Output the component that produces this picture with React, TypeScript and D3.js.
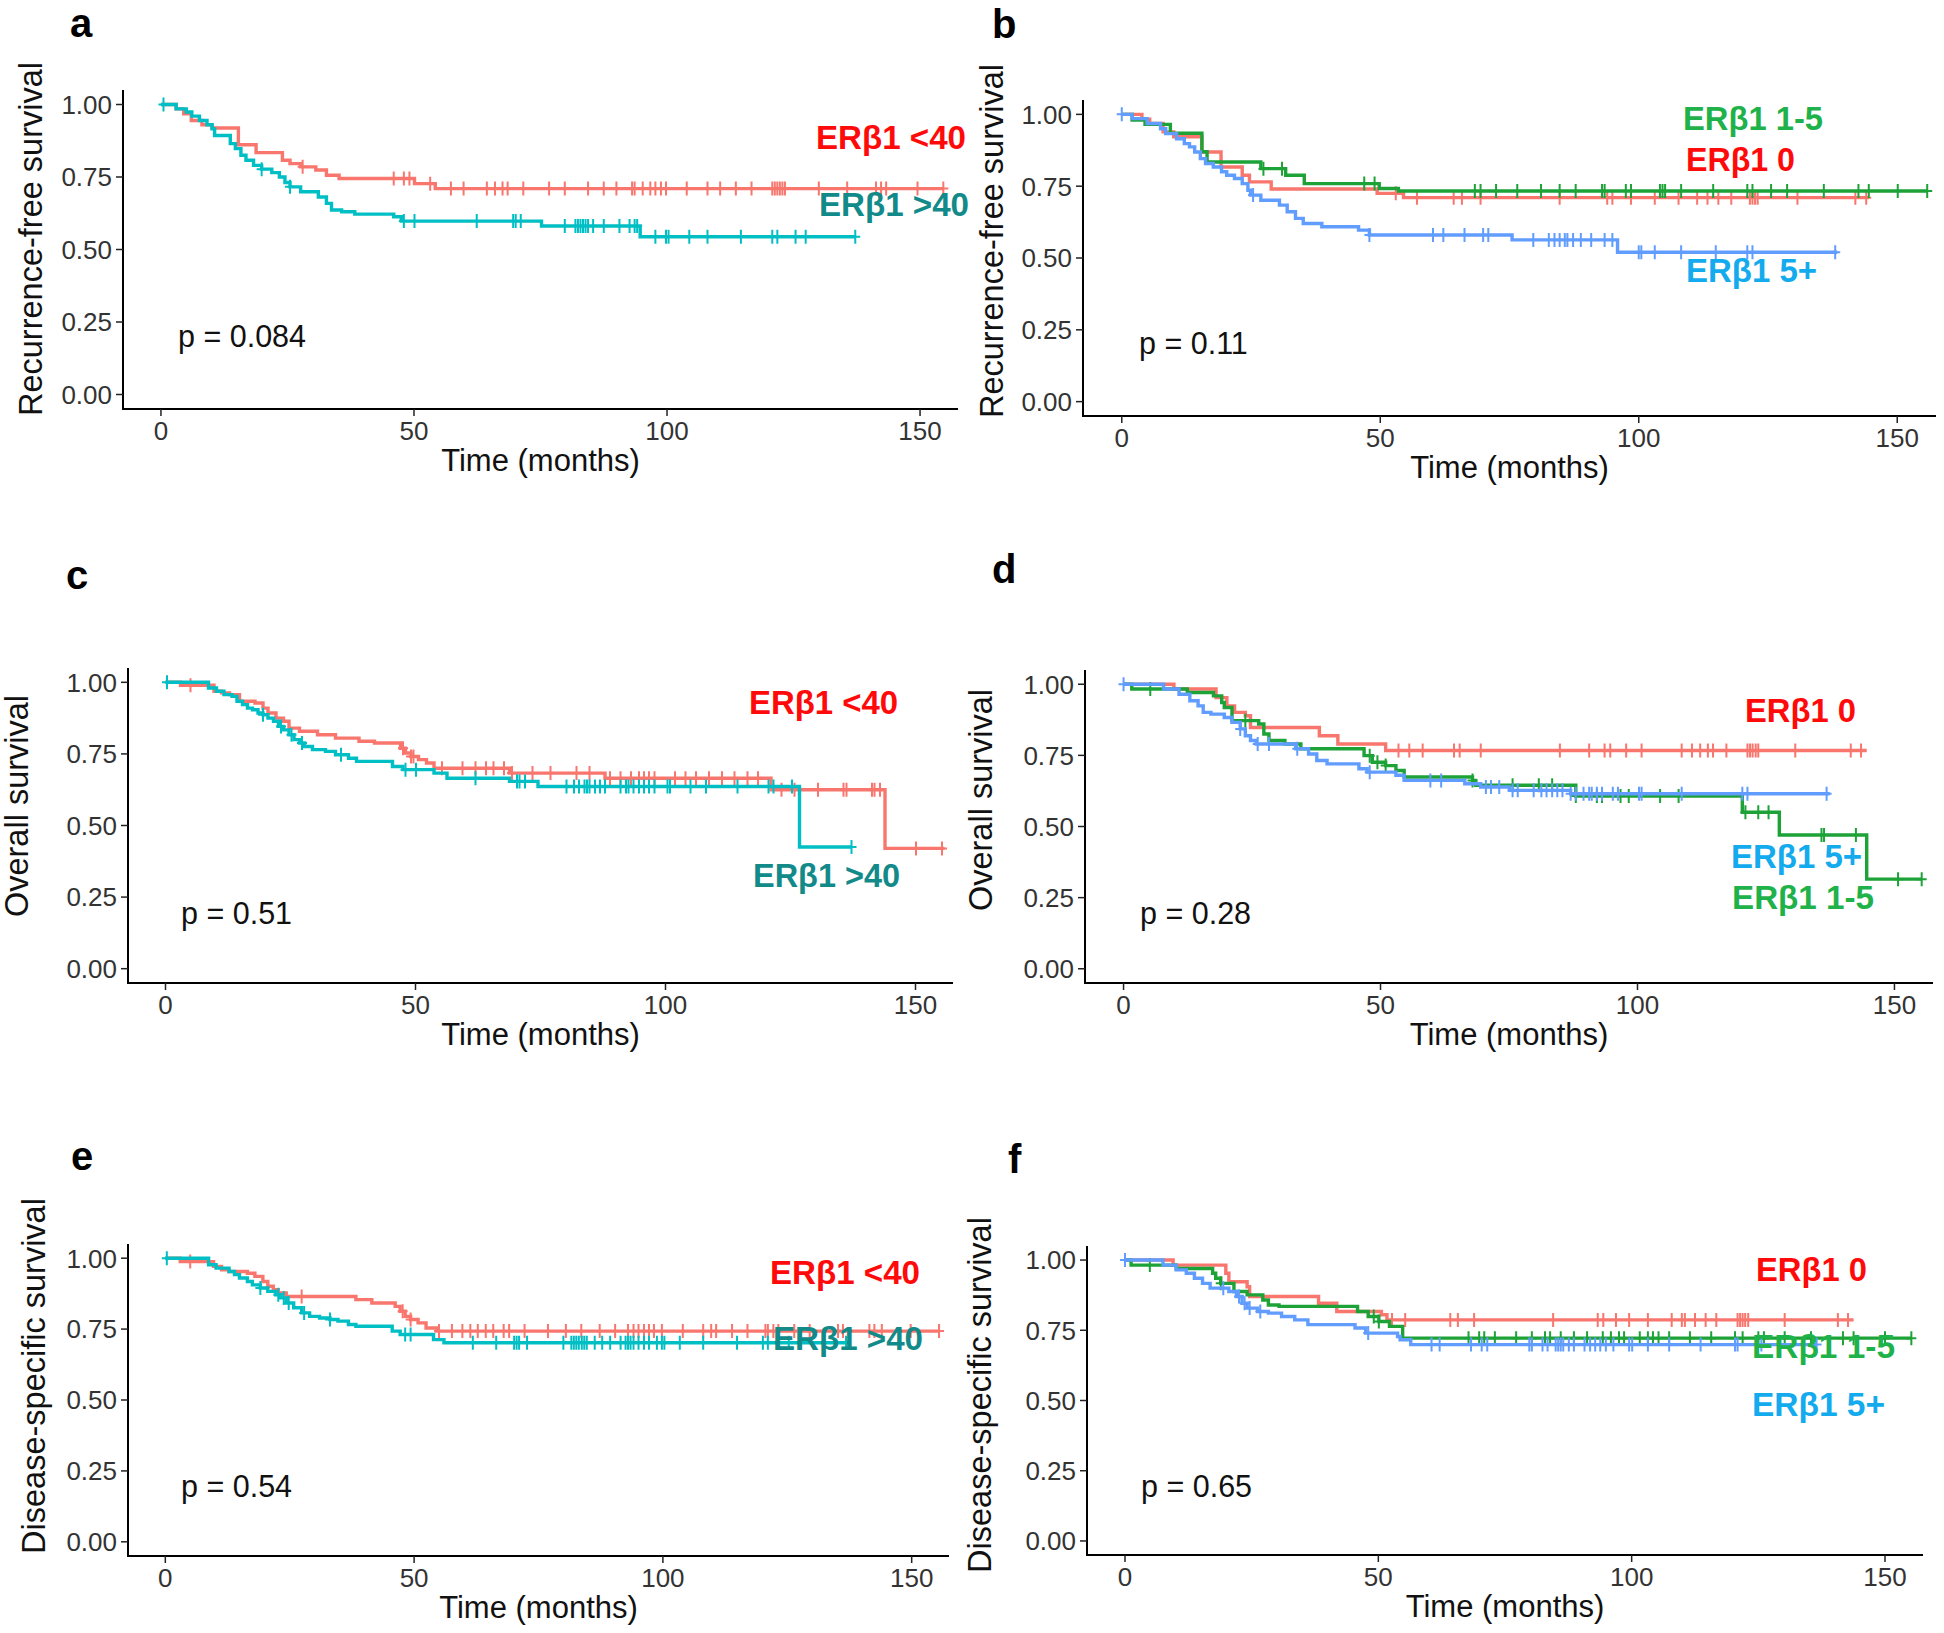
import React from 'react';
import * as d3 from 'd3';

// ---------------- data ----------------
const xTicks = [0, 50, 100, 150];
const yTicks = [0, 0.25, 0.5, 0.75, 1];
const yTickLabels = ['0.00', '0.25', '0.50', '0.75', '1.00'];
const xTitle = 'Time (months)';

// panel a : Recurrence-free survival, ERβ1 <40 vs >40
const aLowT = [0, 3, 4.5, 6, 8.1, 10.1, 15.3, 18.8, 24.0, 25.5, 27.6, 30.6, 32.7, 35.2, 50.1, 54.2];
const aLowS = [1, 0.985, 0.968, 0.945, 0.93, 0.919, 0.861, 0.834, 0.808, 0.796, 0.785, 0.774, 0.756, 0.745, 0.727, 0.71];
const aLowEnd = 154.6;
const aLowCens = [28, 46.0, 48.0, 49.1, 53.2, 57.3, 59.8, 64.4, 66.0, 67.5, 68.5, 71.6, 76.7, 79.8, 84.4, 87.5, 90.0, 93.1, 93.6, 95.2, 96.7, 97.7, 98.8, 99.8, 103.9, 108.0, 110.5, 113.6, 116.7, 120.8, 121.3, 121.8, 122.3, 122.8, 123.3, 130.0, 135.6, 141.3, 142.3, 143.3, 149.5, 154.6];
const aHighT = [0, 3, 5.0, 6.1, 7.6, 9.1, 10.1, 10.6, 13.7, 14.7, 15.8, 16.8, 18.3, 19.9, 21.9, 23.4, 24.5, 25.5, 27.6, 31.1, 32.7, 33.7, 35.7, 38.3, 46.0, 47.5, 75.2, 94.7];
const aHighS = [1, 0.985, 0.974, 0.96, 0.945, 0.93, 0.916, 0.893, 0.865, 0.848, 0.825, 0.808, 0.79, 0.777, 0.765, 0.75, 0.731, 0.716, 0.699, 0.681, 0.659, 0.636, 0.63, 0.622, 0.613, 0.598, 0.581, 0.544];
const aHighEnd = 137.2;
const aHighCens = [0.5, 19.9, 25.5, 48.0, 50.1, 62.4, 69.6, 70.1, 71.1, 79.8, 81.9, 82.4, 82.9, 83.4, 83.9, 84.4, 85.4, 87.5, 90.6, 92.6, 93.6, 94.1, 97.7, 99.8, 100.3, 104.4, 108.0, 114.6, 120.8, 121.8, 125.4, 127.4, 137.2];

// panel b : Recurrence-free survival, ERβ1 0 / 1-5 / 5+
const bZeroT = [0, 3.9, 5.4, 8.0, 10.05, 15.5, 19.2, 23.3, 24.7, 28.9, 49.4, 54.5];
const bZeroS = [1, 0.983, 0.968, 0.939, 0.922, 0.869, 0.817, 0.788, 0.765, 0.74, 0.725, 0.71];
const bZeroEnd = 144.5;
const bZeroCens = [53.0, 57.1, 64.2, 65.8, 69.4, 84.7, 93.9, 94.9, 98.5, 103.1, 107.7, 111.3, 113.3, 115.4, 117.9, 121.5, 122.0, 122.5, 123.0, 130.7, 141.9, 144.0];
const bMidT = [0, 2, 4.5, 9.4, 15.5, 16.5, 26.9, 31.7, 35.3, 49.8, 53.5];
const bMidS = [1, 0.98, 0.965, 0.934, 0.87, 0.834, 0.811, 0.788, 0.759, 0.742, 0.733];
const bMidEnd = 155.8;
const bMidCens = [27.4, 31.0, 46.9, 48.9, 68.3, 69.4, 72.4, 76.5, 81.1, 84.7, 87.8, 92.9, 93.4, 97.5, 98.5, 104.1, 104.6, 105.1, 108.2, 114.4, 121.0, 122.0, 125.6, 128.7, 135.8, 142.5, 144.5, 150.1, 155.8];
const bHighT = [0, 2, 4.9, 7.5, 8.5, 10.6, 12.1, 13.1, 14.1, 15.2, 16.2, 17.7, 19.3, 20.3, 21.8, 23.3, 24.4, 24.9, 26.9, 30.5, 32.0, 33.6, 35.1, 38.7, 45.8, 47.9, 75.5, 95.9];
const bHighS = [1, 0.985, 0.968, 0.95, 0.933, 0.915, 0.898, 0.887, 0.869, 0.846, 0.829, 0.817, 0.8, 0.788, 0.777, 0.759, 0.736, 0.719, 0.701, 0.684, 0.661, 0.638, 0.62, 0.609, 0.597, 0.58, 0.563, 0.52];
const bHighEnd = 138.4;
const bHighCens = [0, 25.4, 47.9, 60.2, 62.2, 66.3, 69.9, 70.9, 79.6, 82.6, 83.7, 84.7, 85.7, 86.2, 87.3, 88.8, 90.8, 93.4, 94.9, 100.0, 100.5, 103.1, 108.2, 114.9, 121.0, 122.0, 138.0];

// panel c : Overall survival, ERβ1 <40 vs >40
const cLowT = [0, 3, 9.7, 11.2, 12.8, 14.8, 17.9, 19.5, 20.5, 22.1, 23.6, 24.7, 26.8, 30.4, 34.0, 38.7, 41.8, 47.0, 48.0, 49.1, 50.6, 52.2, 53.7, 68.8, 87.9, 121.1, 143.9];
const cLowS = [1, 0.99, 0.969, 0.963, 0.957, 0.934, 0.928, 0.91, 0.893, 0.875, 0.864, 0.84, 0.829, 0.817, 0.805, 0.794, 0.788, 0.77, 0.753, 0.741, 0.73, 0.718, 0.70, 0.683, 0.665, 0.625, 0.42];
const cLowEnd = 155.8;
const cLowCens = [5.0, 47.5, 49.1, 49.6, 55.3, 59.4, 62.0, 64.1, 65.6, 67.7, 69.3, 73.4, 77.0, 82.2, 84.8, 88.9, 91.0, 93.1, 94.7, 95.7, 96.7, 97.8, 101.9, 104.0, 106.1, 108.7, 111.3, 113.8, 116.4, 118.5, 123.2, 125.8, 130.5, 135.6, 136.2, 141.3, 141.8, 142.9, 150.1, 155.3];
const cHighT = [0, 8.6, 10.2, 11.7, 13.3, 14.3, 15.4, 16.4, 17.4, 18.5, 19.5, 20.5, 21.6, 22.6, 23.6, 24.7, 25.7, 26.8, 27.8, 29.4, 32.0, 34.0, 36.6, 38.2, 45.4, 47.5, 53.7, 56.3, 68.8, 74.5, 126.8];
const cHighS = [1, 0.98, 0.969, 0.957, 0.951, 0.934, 0.922, 0.91, 0.904, 0.893, 0.887, 0.875, 0.864, 0.846, 0.834, 0.817, 0.80, 0.788, 0.776, 0.765, 0.759, 0.747, 0.735, 0.724, 0.706, 0.695, 0.683, 0.665, 0.654, 0.636, 0.425];
const cHighEnd = 137.2;
const cHighCens = [0.3, 19.5, 23.1, 25.2, 27.3, 35.1, 48.0, 50.1, 62.0, 70.3, 70.8, 71.9, 80.2, 81.7, 82.7, 83.8, 84.3, 84.8, 85.9, 86.9, 87.9, 91.0, 92.1, 92.6, 93.6, 94.7, 95.7, 96.7, 97.8, 100.4, 100.9, 105.0, 108.1, 114.4, 120.6, 121.6, 125.3, 137.2];

// panel d : Overall survival, ERβ1 0 / 1-5 / 5+
const dZeroT = [0, 9.8, 18.0, 20.1, 21.6, 23.7, 24.7, 38.1, 41.7, 51.0];
const dZeroS = [1, 0.983, 0.953, 0.924, 0.901, 0.889, 0.848, 0.819, 0.79, 0.767];
const dZeroEnd = 144.6;
const dZeroCens = [53.5, 55.6, 58.2, 64.3, 65.4, 69.5, 84.9, 90.6, 93.6, 94.7, 97.8, 100.8, 108.6, 110.6, 112.2, 113.7, 114.7, 117.3, 121.4, 121.9, 122.4, 123.0, 123.5, 130.7, 141.5, 143.5];
const dMidT = [0, 1.6, 12.4, 17.5, 19.1, 19.6, 21.1, 26.3, 27.3, 28.3, 31.4, 34.5, 46.8, 48.4, 51.0, 53.0, 54.6, 67.9, 68.5, 88.0, 120.4, 127.6, 144.6];
const dMidS = [1, 0.983, 0.971, 0.959, 0.936, 0.918, 0.872, 0.86, 0.825, 0.802, 0.79, 0.773, 0.749, 0.726, 0.714, 0.697, 0.674, 0.662, 0.645, 0.607, 0.55, 0.47, 0.315];
const dMidEnd = 155.3;
const dMidCens = [5.2, 23.7, 47.9, 49.4, 51.0, 67.9, 75.7, 80.8, 83.4, 88.0, 92.1, 93.1, 96.7, 98.3, 104.4, 108.0, 121.0, 123.5, 125.5, 135.8, 136.3, 142.5, 150.7, 155.3];
const dHighT = [0, 7.8, 10.8, 12.9, 14.5, 15.5, 17.0, 19.6, 21.1, 22.7, 23.7, 24.7, 25.8, 33.5, 36.0, 37.6, 39.6, 45.8, 47.4, 53.0, 54.6, 66.4, 69.5, 75.1, 87.0];
const dHighS = [1, 0.983, 0.965, 0.942, 0.924, 0.901, 0.895, 0.883, 0.866, 0.843, 0.819, 0.802, 0.79, 0.773, 0.755, 0.732, 0.72, 0.703, 0.691, 0.68, 0.662, 0.65, 0.639, 0.627, 0.615];
const dHighEnd = 137.4;
const dHighCens = [0, 22.7, 26.1, 28.3, 33.8, 47.9, 59.7, 61.8, 70.5, 71.5, 73.1, 75.7, 76.7, 79.8, 81.3, 82.3, 83.4, 84.4, 85.4, 87.0, 88.0, 89.5, 90.6, 91.1, 92.1, 93.1, 95.2, 96.2, 100.3, 100.8, 108.6, 120.4, 121.4, 136.8];

// panel e : Disease-specific survival, ERβ1 <40 vs >40
const eLowT = [0, 3, 9.7, 11.3, 12.8, 16.5, 18.0, 19.6, 20.6, 21.7, 22.7, 24.3, 38.3, 41.5, 46.2, 47.2, 48.2, 49.3, 50.8, 52.4, 54.5];
const eLowS = [1, 0.988, 0.971, 0.959, 0.953, 0.947, 0.936, 0.918, 0.901, 0.889, 0.877, 0.865, 0.854, 0.842, 0.83, 0.813, 0.795, 0.784, 0.772, 0.754, 0.743];
const eLowEnd = 155.5;
const eLowCens = [5.0, 27.4, 47.7, 49.3, 55.0, 57.6, 59.7, 61.3, 62.8, 64.4, 65.9, 68.0, 69.1, 72.2, 76.9, 80.5, 83.6, 87.3, 90.4, 93.0, 94.1, 95.1, 96.2, 97.2, 98.2, 99.8, 104.0, 108.1, 109.7, 110.7, 113.9, 117.0, 120.6, 121.1, 122.2, 123.2, 126.4, 129.5, 135.2, 136.2, 141.5, 142.5, 144.0, 149.8, 155.5];
const eHighT = [0, 8.7, 10.2, 12.8, 13.9, 14.9, 16.5, 17.5, 19.1, 20.6, 22.2, 23.2, 24.3, 25.8, 27.4, 29.0, 31.0, 33.1, 34.7, 36.8, 38.3, 45.6, 47.2, 53.9, 56.0];
const eHighS = [1, 0.977, 0.965, 0.953, 0.942, 0.93, 0.918, 0.906, 0.895, 0.883, 0.871, 0.86, 0.842, 0.825, 0.807, 0.795, 0.789, 0.784, 0.778, 0.766, 0.76, 0.743, 0.731, 0.713, 0.702];
const eHighEnd = 137.8;
const eHighCens = [0.3, 19.1, 22.7, 23.8, 24.8, 27.9, 33.1, 48.2, 49.3, 61.8, 66.5, 70.1, 70.6, 71.1, 72.7, 80.0, 81.6, 82.1, 82.6, 83.1, 83.7, 84.2, 84.7, 86.3, 87.8, 89.4, 91.5, 92.5, 93.0, 93.5, 94.1, 95.1, 96.2, 97.2, 98.8, 99.8, 100.3, 103.4, 108.1, 114.9, 120.1, 121.1, 125.3, 136.8];

// panel f : Disease-specific survival, ERβ1 0 / 1-5 / 5+
const fZeroT = [0, 9.5, 19.9, 20.5, 24.1, 24.6, 38.2, 41.8, 50.6, 51.7];
const fZeroS = [1, 0.982, 0.953, 0.923, 0.905, 0.87, 0.846, 0.817, 0.805, 0.787];
const fZeroEnd = 143.8;
const fZeroCens = [52.7, 55.3, 64.2, 65.7, 68.9, 84.5, 93.3, 94.4, 96.9, 99.5, 103.2, 107.9, 109.9, 110.5, 112.5, 114.6, 116.7, 120.9, 121.4, 121.9, 122.4, 123.0, 130.2, 140.7, 142.7];
const fMidT = [0, 1.2, 10.1, 17.3, 17.9, 18.9, 21.5, 24.1, 27.2, 28.3, 30.4, 45.9, 48.0, 50.1, 52.2, 54.8];
const fMidS = [1, 0.982, 0.97, 0.953, 0.935, 0.917, 0.888, 0.876, 0.858, 0.84, 0.835, 0.817, 0.799, 0.781, 0.764, 0.722];
const fMidEnd = 155.2;
const fMidCens = [4.9, 18.9, 49.1, 50.1, 67.8, 69.9, 70.9, 73.0, 77.2, 80.3, 82.9, 83.9, 86.0, 88.6, 91.2, 94.3, 95.9, 97.5, 98.5, 101.6, 103.2, 104.2, 105.3, 107.4, 111.5, 115.7, 120.4, 121.9, 125.0, 126.1, 130.2, 135.4, 141.7, 143.8, 150.0, 155.2];
const fHighT = [0, 7.5, 10.1, 12.1, 13.7, 15.3, 16.8, 20.5, 22.0, 23.1, 24.1, 26.2, 28.3, 30.9, 33.5, 36.1, 45.4, 47.5, 53.8, 54.3, 56.4];
const fHighS = [1, 0.982, 0.965, 0.953, 0.935, 0.917, 0.9, 0.888, 0.87, 0.846, 0.829, 0.817, 0.811, 0.799, 0.787, 0.77, 0.758, 0.74, 0.728, 0.716, 0.699];
const fHighEnd = 136.5;
const fHighCens = [0, 19.4, 22.5, 23.6, 24.6, 26.7, 48.0, 60.5, 62.1, 68.3, 70.4, 71.5, 79.8, 80.3, 82.4, 83.4, 85.0, 85.5, 86.0, 86.5, 87.6, 88.6, 90.7, 91.8, 92.8, 93.8, 94.9, 96.4, 99.5, 100.1, 103.2, 107.4, 113.6, 120.4, 120.9, 125.6, 136.5];

// ---------------- styles ----------------
const RED = '#F8766D';
const TEAL = '#00BFC4';
const GREEN = '#1DA237';
const BLUE = '#619CFF';
const LAB_RED = '#FF0A0A';
const LAB_TEAL = '#128A8A';
const LAB_GREEN = '#1FB24A';
const LAB_BLUE = '#14AAEE';
const FONT = "'Liberation Sans', Arial, Helvetica, sans-serif";

type Curve = { T: number[]; S: number[]; end: number; cens: number[]; color: string };
type Label = { text: string; color: string; x: number; y: number; w: number };
type Panel = {
  letter: string; lx: number; ly: number;
  left: number; right: number; top: number; bottom: number;
  yTitle: string; ytx: number; yty: number;
  p: string; px: number; py: number;
  curves: Curve[]; labels: Label[];
};

const panels: Panel[] = [
  {
    letter: 'a', lx: 70, ly: 37, left: 123, right: 958, top: 90, bottom: 409,
    yTitle: 'Recurrence-free survival', ytx: 42, yty: 239,
    p: 'p = 0.084', px: 178, py: 347,
    curves: [
      { T: aLowT, S: aLowS, end: aLowEnd, cens: aLowCens, color: RED },
      { T: aHighT, S: aHighS, end: aHighEnd, cens: aHighCens, color: TEAL },
    ],
    labels: [
      { text: 'ERβ1 <40', color: LAB_RED, x: 816, y: 149, w: 150 },
      { text: 'ERβ1 >40', color: LAB_TEAL, x: 819, y: 216, w: 150 },
    ],
  },
  {
    letter: 'b', lx: 992, ly: 38, left: 1083, right: 1936, top: 100, bottom: 416,
    yTitle: 'Recurrence-free survival', ytx: 1003, yty: 241,
    p: 'p = 0.11', px: 1139, py: 354,
    curves: [
      { T: bZeroT, S: bZeroS, end: bZeroEnd, cens: bZeroCens, color: RED },
      { T: bMidT, S: bMidS, end: bMidEnd, cens: bMidCens, color: GREEN },
      { T: bHighT, S: bHighS, end: bHighEnd, cens: bHighCens, color: BLUE },
    ],
    labels: [
      { text: 'ERβ1 1-5', color: LAB_GREEN, x: 1683, y: 130, w: 140 },
      { text: 'ERβ1 0', color: LAB_RED, x: 1686, y: 171, w: 109 },
      { text: 'ERβ1 5+', color: LAB_BLUE, x: 1686, y: 282, w: 131 },
    ],
  },
  {
    letter: 'c', lx: 66, ly: 589, left: 128, right: 953, top: 668, bottom: 983,
    yTitle: 'Overall survival', ytx: 28, yty: 806,
    p: 'p = 0.51', px: 181, py: 924,
    curves: [
      { T: cLowT, S: cLowS, end: cLowEnd, cens: cLowCens, color: RED },
      { T: cHighT, S: cHighS, end: cHighEnd, cens: cHighCens, color: TEAL },
    ],
    labels: [
      { text: 'ERβ1 <40', color: LAB_RED, x: 749, y: 714, w: 149 },
      { text: 'ERβ1 >40', color: LAB_TEAL, x: 753, y: 887, w: 147 },
    ],
  },
  {
    letter: 'd', lx: 992, ly: 583, left: 1085, right: 1933, top: 670, bottom: 983,
    yTitle: 'Overall survival', ytx: 992, yty: 800,
    p: 'p = 0.28', px: 1140, py: 924,
    curves: [
      { T: dZeroT, S: dZeroS, end: dZeroEnd, cens: dZeroCens, color: RED },
      { T: dMidT, S: dMidS, end: dMidEnd, cens: dMidCens, color: GREEN },
      { T: dHighT, S: dHighS, end: dHighEnd, cens: dHighCens, color: BLUE },
    ],
    labels: [
      { text: 'ERβ1 0', color: LAB_RED, x: 1745, y: 722, w: 111 },
      { text: 'ERβ1 5+', color: LAB_BLUE, x: 1731, y: 868, w: 131 },
      { text: 'ERβ1 1-5', color: LAB_GREEN, x: 1732, y: 909, w: 142 },
    ],
  },
  {
    letter: 'e', lx: 71, ly: 1170, left: 128, right: 949, top: 1244, bottom: 1556,
    yTitle: 'Disease-specific survival', ytx: 45, yty: 1376,
    p: 'p = 0.54', px: 181, py: 1497,
    curves: [
      { T: eLowT, S: eLowS, end: eLowEnd, cens: eLowCens, color: RED },
      { T: eHighT, S: eHighS, end: eHighEnd, cens: eHighCens, color: TEAL },
    ],
    labels: [
      { text: 'ERβ1 <40', color: LAB_RED, x: 770, y: 1284, w: 150 },
      { text: 'ERβ1 >40', color: LAB_TEAL, x: 773, y: 1350, w: 150 },
    ],
  },
  {
    letter: 'f', lx: 1008, ly: 1173, left: 1087, right: 1923, top: 1246, bottom: 1555,
    yTitle: 'Disease-specific survival', ytx: 991, yty: 1395,
    p: 'p = 0.65', px: 1141, py: 1497,
    curves: [
      { T: fZeroT, S: fZeroS, end: fZeroEnd, cens: fZeroCens, color: RED },
      { T: fMidT, S: fMidS, end: fMidEnd, cens: fMidCens, color: GREEN },
      { T: fHighT, S: fHighS, end: fHighEnd, cens: fHighCens, color: BLUE },
    ],
    labels: [
      { text: 'ERβ1 0', color: LAB_RED, x: 1756, y: 1281, w: 111 },
      { text: 'ERβ1 1-5', color: LAB_GREEN, x: 1752, y: 1358, w: 143 },
      { text: 'ERβ1 5+', color: LAB_BLUE, x: 1752, y: 1416, w: 133 },
    ],
  },
];

function survAt(T: number[], S: number[], t: number) {
  const i = d3.bisectRight(T, t) - 1;
  return S[Math.max(0, i)];
}

function PanelView({ pn }: { pn: Panel }) {
  const x = d3.scaleLinear().domain([-7.5, 157.5]).range([pn.left, pn.right]);
  const y = d3.scaleLinear().domain([-0.05, 1.05]).range([pn.bottom, pn.top]);
  const line = d3
    .line<[number, number]>()
    .x((d) => x(d[0]))
    .y((d) => y(d[1]))
    .curve(d3.curveStepAfter);
  const midX = (pn.left + pn.right) / 2;
  return (
    <g>
      <text x={pn.lx} y={pn.ly} fontFamily={FONT} fontWeight="bold" fontSize={40} fill="#000">
        {pn.letter}
      </text>
      {/* curves */}
      {pn.curves.map((c, ci) => {
        const pts: [number, number][] = c.T.map((t, i) => [t, c.S[i]] as [number, number]);
        pts.push([c.end, c.S[c.S.length - 1]]);
        return (
          <g key={ci}>
            <path d={line(pts) || ''} fill="none" stroke={c.color} strokeWidth={3.4} />
            {c.cens.map((t, k) => {
              const cx = x(t);
              const cy = y(survAt(c.T, c.S, t));
              return (
                <path
                  key={k}
                  d={`M${cx - 5},${cy}H${cx + 5}M${cx},${cy - 7}V${cy + 7}`}
                  stroke={c.color}
                  strokeWidth={2}
                  fill="none"
                />
              );
            })}
          </g>
        );
      })}
      {/* axes */}
      <line x1={pn.left} x2={pn.left} y1={pn.top} y2={pn.bottom + 1} stroke="#000" strokeWidth={2} />
      <line x1={pn.left - 1} x2={pn.right} y1={pn.bottom} y2={pn.bottom} stroke="#000" strokeWidth={2} />
      {yTicks.map((v, i) => (
        <g key={'y' + i}>
          <line x1={pn.left - 7} x2={pn.left} y1={y(v)} y2={y(v)} stroke="#222" strokeWidth={1.5} />
          <text
            x={pn.left - 11}
            y={y(v)}
            dy="0.36em"
            textAnchor="end"
            fontFamily={FONT}
            fontSize={26}
            fill="#333"
          >
            {yTickLabels[i]}
          </text>
        </g>
      ))}
      {xTicks.map((v, i) => (
        <g key={'x' + i}>
          <line x1={x(v)} x2={x(v)} y1={pn.bottom} y2={pn.bottom + 7} stroke="#222" strokeWidth={1.5} />
          <text x={x(v)} y={pn.bottom + 31} textAnchor="middle" fontFamily={FONT} fontSize={26} fill="#333">
            {String(v)}
          </text>
        </g>
      ))}
      <text x={midX} y={pn.bottom + 62} textAnchor="middle" fontFamily={FONT} fontSize={31} fill="#111">
        {xTitle}
      </text>
      <text
        transform={`translate(${pn.ytx},${pn.yty}) rotate(-90)`}
        textAnchor="middle"
        fontFamily={FONT}
        fontSize={32.5}
        fill="#111"
      >
        {pn.yTitle}
      </text>
      <text x={pn.px} y={pn.py} fontFamily={FONT} fontSize={30.5} fill="#111">
        {pn.p}
      </text>
      {pn.labels.map((l, i) => (
        <text
          key={'l' + i}
          x={l.x}
          y={l.y}
          fontFamily={FONT}
          fontWeight="bold"
          fontSize={33}
          fill={l.color}
          textLength={l.w}
          lengthAdjust="spacingAndGlyphs"
        >
          {l.text}
        </text>
      ))}
    </g>
  );
}

export default function App() {
  return (
    <svg
      width={1944}
      height={1633}
      viewBox="0 0 1944 1633"
      style={{ position: 'absolute', left: 0, top: 0, background: '#fff' }}
    >
      <rect x={0} y={0} width={1944} height={1633} fill="#fff" />
      {panels.map((pn) => (
        <PanelView key={pn.letter} pn={pn} />
      ))}
    </svg>
  );
}
